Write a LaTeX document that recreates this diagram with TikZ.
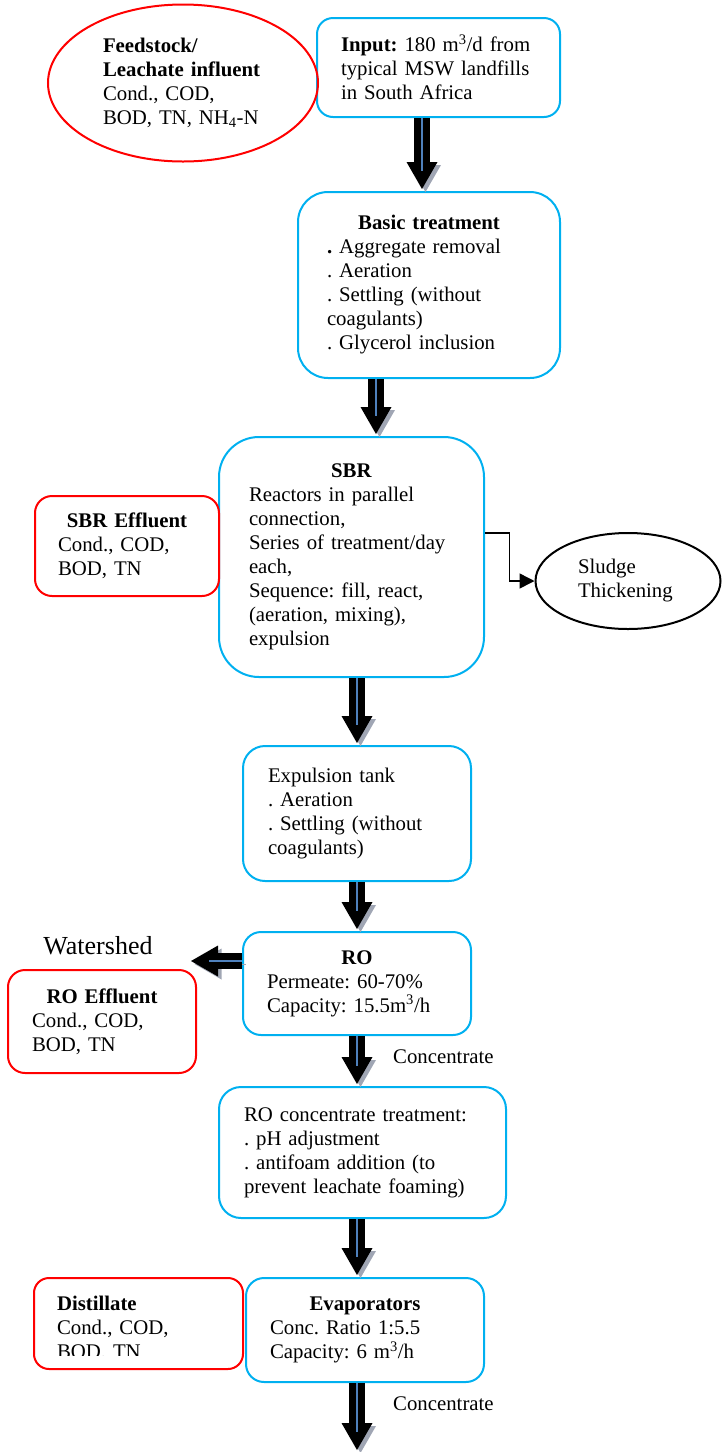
\documentclass[tikz,border=0pt]{standalone}
\usepackage{fontspec}
\setmainfont{Liberation Serif}
\usepackage{tikz}
\usetikzlibrary{positioning,shapes.geometric,arrows.meta}
\frenchspacing

\definecolor{procblue}{RGB}{0,176,240}
\definecolor{effred}{RGB}{255,0,0}
\definecolor{shadowgray}{RGB}{160,166,180}
\definecolor{arrowblue}{RGB}{79,129,189}

\begin{document}
\begin{tikzpicture}[x=1pt,y=-1pt,on grid,font=\fontsize{20.8}{24}\selectfont]
    \tikzset{procbox/.style={draw=procblue,line width=2pt,rectangle,inner sep=0pt,align=left},
      outbox/.style={draw=effred,line width=2pt,rectangle,inner sep=0pt,align=left},
      blobnode/.style={ellipse,line width=2pt,inner sep=0pt,align=left},
      blockarrow/.style={line width=16pt,-{Triangle[width=31pt 0 0,length=27pt 0 0,line width=0pt 0 0]},shorten >=2pt,
        preaction={draw=shadowgray,transform canvas={shift={(3.5pt,-3pt)}}},
        postaction={draw=arrowblue,line width=1.5pt,-{},shorten >=20pt}},
      sludgeline/.style={draw=black,line width=1.5pt,-{Triangle[length=15pt,width=15pt]}},
      tag/.style={inner sep=0pt}}
    \useasboundingbox (0,0) rectangle (722,1452);
    % main column
    \node[procbox,rounded corners=16pt,minimum width=243pt,minimum height=99pt,text width=195pt] (input) at (438.5,67.5)
      {\textbf{Input:} 180 m\textsuperscript{3}/d from\\typical MSW landfills\\in South Africa};
    \node[blobnode,draw=effred,minimum width=270pt,minimum height=157pt,text width=160pt] (feed) [below left=15.5pt and 255.5pt of input]
      {\textbf{Feedstock/}\\\textbf{Leachate influent}\\Cond., COD,\\BOD, TN, NH\textsubscript{4}-N};
    \node[procbox,rounded corners=30pt,minimum width=262pt,minimum height=186pt,text width=204pt] (basic) [below left=217.5pt and 9.5pt of input]
      {\makebox[\linewidth]{\textbf{Basic treatment}}\\\textbf{.} Aggregate removal\\. Aeration\\. Settling (without\\coagulants)\\. Glycerol inclusion};
    \node[procbox,rounded corners=40pt,minimum width=265pt,minimum height=240pt,text width=205pt] (sbr) [below left=272pt and 77.5pt of basic]
      {\makebox[\linewidth]{\textbf{SBR}}\\Reactors in parallel\\connection,\\Series of treatment/day\\each,\\Sequence: fill, react,\\(aeration, mixing),\\expulsion};
    \node[outbox,rounded corners=17pt,minimum width=184pt,minimum height=100pt,text width=138pt] (sbreff) [above left=11pt and 224.5pt of sbr]
      {\makebox[\linewidth]{\textbf{SBR Effluent}}\\Cond., COD,\\BOD, TN};
    \node[blobnode,draw=black,minimum width=185pt,minimum height=96pt,text width=100pt] (sludge) [below right=24pt and 276.5pt of sbr]
      {Sludge\\Thickening};
    \node[procbox,rounded corners=22pt,minimum width=228pt,minimum height=135pt,text width=178pt] (expul) [below right=256.5pt and 5.5pt of sbr]
      {Expulsion tank\\. Aeration\\. Settling (without\\coagulants)};
    \node[procbox,rounded corners=18pt,minimum width=228pt,minimum height=103pt,text width=180pt] (ro) [below=170pt of expul]
      {\makebox[\linewidth]{\textbf{RO}}\\Permeate: 60-70\%\\Capacity: 15.5m\textsuperscript{3}/h};
    \node[outbox,rounded corners=17pt,minimum width=188pt,minimum height=103pt,text width=140pt] (roeff) [below left=38pt and 255pt of ro]
      {\makebox[\linewidth]{\textbf{RO Effluent}}\\Cond., COD,\\BOD, TN};
    \node[procbox,rounded corners=22pt,minimum width=287pt,minimum height=131pt,text width=237pt] (roconc) [below right=169pt and 5.5pt of ro]
      {RO concentrate treatment:\\. pH adjustment\\. antifoam addition (to\\prevent leachate foaming)};
    \node[procbox,rounded corners=18pt,minimum width=238pt,minimum height=104pt,text width=190pt] (evap) [below right=177.5pt and 2.5pt of roconc]
      {\makebox[\linewidth]{\textbf{Evaporators}}\\Conc. Ratio 1:5.5\\Capacity: 6 m\textsuperscript{3}/h};
    \node[outbox,rounded corners=15pt,minimum width=209pt,minimum height=91pt] (distil) [above left=6.5pt and 226.5pt of evap] {};
    \begin{scope}
      \clip ([yshift=2pt]distil.north west) rectangle ([yshift=15pt]distil.south east);
      \node[tag,align=left,text width=150pt] (distiltext) [below left=5pt and 6.5pt of distil]
        {\textbf{Distillate}\\Cond., COD,\\BOD, TN};
    \end{scope}
    % labels
    \node[tag,font=\fontsize{26}{30}\selectfont] (watershed) [above left=37.5pt and 259pt of ro] {Watershed};
    \node[tag,anchor=west] (concA) at (393,1057) {Concentrate};
    \node[tag,anchor=west] (concB) at (393,1404) {Concentrate};
    \coordinate (wsout) at (189,961);
    \coordinate (outlet) at (357,1452);
    % flows
    \draw[blockarrow] ([xshift=-16.5pt]input.south) -- ([xshift=-7pt]basic.north);
    \draw[blockarrow] ([xshift=-53pt]basic.south) -- ([xshift=24.5pt]sbr.north);
    \draw[blockarrow] ([xshift=5.5pt]sbr.south) -- (expul.north);
    \draw[blockarrow] (expul.south) -- (ro.north);
    \draw[blockarrow] ([yshift=22.5pt]ro.west) -- (wsout);
    \draw[blockarrow] (ro.south) -- ([xshift=-5.5pt]roconc.north);
    \draw[blockarrow] ([xshift=-5.5pt]roconc.south) -- ([xshift=-8pt]evap.north);
    \draw[blockarrow] ([xshift=-8pt]evap.south) -- (outlet);
    \draw[sludgeline] ([yshift=24pt]sbr.east) -| ([xshift=-25pt]sludge.west) -- (sludge.west);
\end{tikzpicture}
\end{document}
